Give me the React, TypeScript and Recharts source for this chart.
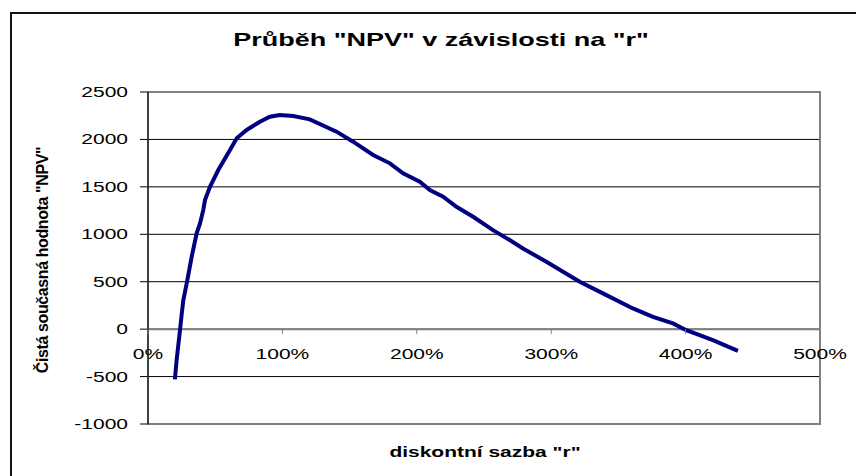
import { LineChart, Line, XAxis, YAxis, CartesianGrid, ReferenceLine, ReferenceDot, ReferenceArea } from 'recharts';

// =============================================================================
// Data
// =============================================================================

const rates = [
  20, 21.3, 23.8, 25, 26.3, 28.8, 32.5, 36.2, 38.7, 41.1, 42.4, 46.1, 52.3, 61, 66, 73.4, 83.3,
  90.7, 98, 108, 120.4, 140.3, 152.6, 167.5, 180, 189.8, 202.2, 209.7, 219.6, 229.5, 241.9,
  256.7, 269.1, 279, 296.4, 321.2, 338.5, 360.8, 375.7, 390.6, 400.5, 420.3, 438.9,
];

const npvValues = [
  -530, -327, -11, 148, 306, 482, 763, 1010, 1115, 1255, 1361, 1501, 1677, 1888, 2012, 2100, 2187,
  2240, 2258, 2247, 2212, 2082, 1976, 1836, 1748, 1643, 1554, 1466, 1396, 1290, 1185,
  1044, 939, 851, 710, 499, 377, 218, 130, 60, -11, -116, -229,
];

const xTicks = [0, 100, 200, 300, 400, 500];
const yTicks = [-1000, -500, 0, 500, 1000, 1500, 2000, 2500];

const chartTitle = 'Průběh "NPV" v závislosti na "r"';
const xTitle = 'diskontní sazba "r"';
const yTitle = 'Čistá současná hodnota "NPV"';

const data = rates.map((r, i) => ({ r, npv: npvValues[i] }));

// =============================================================================
// Styles
// =============================================================================

const FONT = "Arial, 'Liberation Sans', sans-serif";
const SX = 1.5; // the original Excel chart is stretched horizontally

function StretchText({
  x,
  y,
  anchor = 'middle',
  size = 14,
  bold = false,
  children,
}: {
  x: number;
  y: number;
  anchor?: 'start' | 'middle' | 'end';
  size?: number;
  bold?: boolean;
  children: React.ReactNode;
}) {
  return (
    <text
      transform={`translate(${x} ${y}) scale(${SX} 1)`}
      textAnchor={anchor}
      fontFamily={FONT}
      fontSize={size}
      fontWeight={bold ? 'bold' : 'normal'}
      fill="#000"
    >
      {children}
    </text>
  );
}

// =============================================================================
// Component
// =============================================================================

export default function App() {
  return (
    <div style={{ position: 'absolute', left: 0, top: 0, width: 856, height: 476, overflow: 'hidden', background: '#fff' }}>
      <div
        style={{
          position: 'absolute',
          left: 10,
          top: 12,
          width: 900,
          height: 520,
          borderLeft: '2px solid #111',
          borderTop: '2px solid #111',
        }}
      />
      <div style={{ position: 'absolute', left: 0, top: 0 }}>
        <LineChart width={856} height={476} data={data} margin={{ top: 92, right: 36, bottom: 52, left: 88 }}>
          <CartesianGrid vertical={false} stroke="#000" strokeWidth={1} />
          <XAxis type="number" dataKey="r" domain={[0, 500]} ticks={xTicks} hide />
          <YAxis
            type="number"
            domain={[-1000, 2500]}
            ticks={yTicks}
            width={60}
            interval={0}
            axisLine={{ stroke: '#000', strokeWidth: 1 }}
            tickLine={{ stroke: '#000' }}
            tickSize={8}
            tickMargin={12}
            tick={(p: any) => (
              <StretchText x={p.x} y={p.y + 5} anchor="end" size={14}>
                {p.payload.value}
              </StretchText>
            )}
          />
          <ReferenceArea
            x1={0}
            x2={500}
            y1={-1000}
            y2={2500}
            fill="none"
            stroke="#808080"
            strokeWidth={2}
          />
          <ReferenceLine y={0} stroke="#808080" strokeWidth={2} />
          {xTicks.map((t) => (
            <ReferenceDot
              key={t}
              x={t}
              y={0}
              ifOverflow="visible"
              shape={(p: any) => (
                <g>
                  <line x1={p.cx} x2={p.cx} y1={p.cy} y2={p.cy + 5} stroke="#808080" strokeWidth={1} />
                  <StretchText x={p.cx} y={p.cy + 30} size={14}>
                    {`${t}%`}
                  </StretchText>
                </g>
              )}
            />
          ))}
          <Line
            type="linear"
            dataKey="npv"
            stroke="#000080"
            strokeWidth={4}
            dot={false}
            isAnimationActive={false}
          />
        </LineChart>
      </div>
      <svg width={856} height={476} style={{ position: 'absolute', left: 0, top: 0, pointerEvents: 'none' }}>
        <StretchText x={441} y={46} size={18} bold>
          {chartTitle}
        </StretchText>
        <StretchText x={485} y={457} size={14} bold>
          {xTitle}
        </StretchText>
        <text
          transform="translate(48 260) rotate(-90)"
          textAnchor="middle"
          fontFamily={FONT}
          fontSize={16}
          fontWeight="bold"
          letterSpacing={-0.4}
          fill="#000"
        >
          {yTitle}
        </text>
      </svg>
    </div>
  );
}
